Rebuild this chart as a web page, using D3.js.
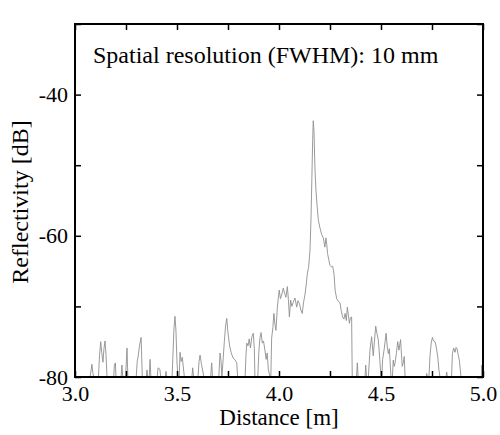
<!DOCTYPE html>
<html>
<head>
<meta charset="utf-8">
<script src="https://cdn.jsdelivr.net/npm/d3@7"></script>
<style>
  body { margin: 0; background: #fff; }
  text { font-family: "Liberation Serif", "DejaVu Serif", "Times New Roman", Times, serif; }
</style>
</head>
<body>
<div id="chart-area"></div>
<script>
// trace; -82 = below the noise floor (clipped at -80)
var distance = [
  3.000, 3.074, 3.083, 3.088, 3.092, 3.115, 3.120, 3.126, 3.131, 3.137, 3.142, 3.147, 3.152, 3.157,
  3.190, 3.193, 3.198, 3.201, 3.226, 3.230, 3.234, 3.248, 3.252, 3.255, 3.259,
  3.300, 3.305, 3.309, 3.316, 3.324, 3.330, 3.350, 3.353, 3.356, 3.364, 3.368, 3.372,
  3.403, 3.407, 3.416, 3.420, 3.443, 3.446, 3.450,
  3.476, 3.480, 3.485, 3.490, 3.495, 3.500, 3.505, 3.511, 3.515, 3.520, 3.526, 3.536,
  3.573, 3.577, 3.581, 3.603, 3.608, 3.613, 3.620, 3.632, 3.665, 3.670, 3.674,
  3.705, 3.711, 3.716, 3.720, 3.725, 3.732, 3.738, 3.744, 3.750, 3.758, 3.766, 3.775, 3.785, 3.793, 3.797,
  3.834, 3.838, 3.842, 3.848, 3.854, 3.860, 3.867, 3.874, 3.879, 3.882,
  3.896, 3.901, 3.906, 3.912, 3.918, 3.924, 3.931, 3.937, 3.942, 3.948, 3.956,
  3.960, 3.964, 3.970, 3.975, 3.980, 3.985, 3.992, 4.001, 4.007, 4.013, 4.021, 4.028, 4.034, 4.041,
  4.046, 4.051, 4.057, 4.063, 4.070, 4.078, 4.087, 4.093, 4.100, 4.107, 4.114, 4.120, 4.127, 4.134,
  4.139, 4.145, 4.152, 4.157, 4.161, 4.165, 4.168, 4.172, 4.176, 4.181, 4.186, 4.193, 4.201, 4.209,
  4.217, 4.225, 4.230, 4.234, 4.238, 4.244, 4.250, 4.257, 4.263, 4.270, 4.275, 4.283, 4.291, 4.299,
  4.305, 4.312, 4.318, 4.324, 4.330, 4.335, 4.340, 4.345, 4.350, 4.356, 4.359,
  4.380, 4.384, 4.388, 4.422, 4.425, 4.429, 4.438, 4.446, 4.454, 4.462, 4.474, 4.480, 4.487, 4.494, 4.500,
  4.504, 4.508, 4.516, 4.525, 4.530, 4.536, 4.541, 4.549, 4.556, 4.560, 4.565, 4.569, 4.576, 4.582,
  4.588, 4.596, 4.604, 4.609, 4.614, 4.618,
  4.722, 4.724, 4.727, 4.735, 4.740, 4.746, 4.752, 4.758, 4.765, 4.771, 4.778, 4.784, 4.789,
  4.819, 4.822, 4.825, 4.846, 4.850, 4.856, 4.863, 4.868, 4.873, 4.878, 4.884, 4.892,
  4.992, 4.994, 4.997, 5.000
];
var reflectivity = [
  -82, -82, -78.2, -79.5, -82, -82, -77.0, -75.0, -76.5, -77.9, -76.0, -74.9, -76.8, -82,
  -82, -78.3, -78.0, -82, -82, -78.3, -82, -82, -77.5, -75.9, -82,
  -82, -77.8, -77.2, -75.6, -74.4, -82, -82, -79.0, -82, -82, -77.5, -82,
  -82, -78.7, -78.9, -82, -82, -79.2, -82,
  -82, -77.0, -73.2, -71.4, -73.5, -78.0, -82, -82, -76.5, -77.8, -77.2, -82,
  -82, -78.7, -82, -82, -77.8, -76.9, -78.2, -82, -82, -78.0, -82,
  -82, -76.6, -77.8, -82, -78.0, -75.0, -72.8, -71.7, -73.8, -75.6, -76.6, -77.3, -77.6, -78.0, -82,
  -82, -77.0, -75.2, -75.6, -74.6, -75.9, -74.3, -73.8, -76.0, -82,
  -82, -76.5, -74.6, -73.7, -75.2, -74.9, -76.2, -77.5, -76.6, -79.0, -82,
  -82, -74.5, -73.0, -71.0, -72.5, -73.4, -70.1, -67.7, -68.9, -68.4, -67.4, -68.2, -68.7, -67.2,
  -69.0, -71.5, -69.1, -70.0, -69.4, -68.8, -70.1, -69.2, -69.6, -70.5, -71.0, -69.5, -68.4, -66.8,
  -65.3, -64.5, -62.0, -57.5, -52.0, -46.5, -43.7, -45.5, -50.3, -53.5, -55.5, -57.8, -58.9, -59.8,
  -60.3, -61.6, -60.3, -61.2, -62.5, -63.4, -64.2, -64.4, -64.3, -65.5, -67.7, -68.9, -69.3, -69.5,
  -70.6, -71.5, -71.8, -71.0, -72.0, -70.1, -71.2, -72.4, -71.6, -71.5, -82,
  -82, -78.0, -82, -82, -78.3, -82, -82, -76.2, -74.3, -77.0, -72.8, -73.8, -74.8, -77.5, -82,
  -82, -77.5, -76.0, -73.8, -75.5, -76.7, -76.0, -82, -82, -77.6, -78.5, -78.0, -76.5, -75.0,
  -76.2, -74.7, -78.5, -78.0, -77.1, -82,
  -82, -79.5, -82, -82, -77.1, -75.2, -74.4, -74.9, -75.0, -75.8, -77.1, -79.0, -82,
  -82, -79.3, -82, -82, -76.7, -75.9, -76.5, -75.8, -76.0, -76.8, -77.6, -82,
  -82, -78.3, -82, -82
];

var xMinorTicks = [3.0, 3.25, 3.5, 3.75, 4.0, 4.25, 4.5, 4.75, 5.0];
var xTickLabels = ["3.0", "3.5", "4.0", "4.5", "5.0"];
var yMinorTicks = [-80, -70, -60, -50, -40, -30];
var yTickLabels = [-40, -60, -80];

var data = distance.map((d, i) => ({ x: d, y: reflectivity[i] }));

var serif = '"Liberation Serif", "DejaVu Serif", "Times New Roman", Times, serif';

var width = 500;
var height = 435;
var margin = { top: 24, right: 17, bottom: 58, left: 75 };
var charWidth = width - margin.left - margin.right;
var charHeight = height - margin.top - margin.bottom;

var svg = d3.select("#chart-area")
  .append("svg")
  .attr("width", width)
  .attr("height", height);

var g = svg.append("g")
  .attr("transform", "translate(" + margin.left + ", " + margin.top + ")");

var x = d3.scaleLinear()
  .domain([3, 5])
  .range([0, charWidth]);

var y = d3.scaleLinear()
  .domain([-80, -30])
  .range([charHeight, 0])
  .clamp(true);

g.append("clipPath")
  .attr("id", "clip")
  .append("rect")
  .attr("width", charWidth)
  .attr("height", charHeight);

var line = d3.line()
  .x(d => x(d.x))
  .y(d => y(d.y));

g.append("path")
  .datum(data)
  .attr("clip-path", "url(#clip)")
  .attr("fill", "none")
  .attr("stroke", "#8f8f8f")
  .attr("stroke-width", 0.9)
  .attr("d", line);

function styleAxis(sel) {
  sel.select(".domain").remove();
  sel.selectAll(".tick line").attr("stroke", "#000").attr("stroke-width", 1.5);
  sel.selectAll("text")
    .attr("font-family", serif)
    .attr("font-size", "22px")
    .attr("fill", "#000");
}

// bottom axis: ticks every 0.25, labels every 0.5
g.append("g")
  .attr("transform", "translate(0, " + charHeight + ")")
  .call(d3.axisBottom(x).tickValues(xMinorTicks).tickSizeInner(-6).tickSizeOuter(0).tickPadding(8)
    .tickFormat(d => {
      var s = d3.format(".1f")(d);
      return xTickLabels.indexOf(s) >= 0 ? s : "";
    }))
  .call(styleAxis);

g.append("g")
  .call(d3.axisTop(x).tickValues(xMinorTicks).tickSizeInner(-6).tickSizeOuter(0).tickFormat(""))
  .call(styleAxis);

g.append("g")
  .call(d3.axisLeft(y).tickValues(yMinorTicks).tickSizeInner(-6).tickSizeOuter(0).tickPadding(7)
    .tickFormat(d => yTickLabels.indexOf(d) >= 0 ? d : ""))
  .call(styleAxis);

g.append("g")
  .attr("transform", "translate(" + charWidth + ", 0)")
  .call(d3.axisRight(y).tickValues(yMinorTicks).tickSizeInner(-6).tickSizeOuter(0).tickFormat(""))
  .call(styleAxis);

g.append("rect")
  .attr("width", charWidth)
  .attr("height", charHeight)
  .attr("fill", "none")
  .attr("stroke", "#000")
  .attr("stroke-width", 2);

g.append("text")
  .attr("x", 18)
  .attr("y", 39)
  .attr("font-family", serif)
  .attr("font-size", "24px")
  .style("fill", "#000")
  .text("Spatial resolution (FWHM): 10 mm");

svg.append("text")
  .attr("x", margin.left + charWidth / 2)
  .attr("y", 425)
  .attr("text-anchor", "middle")
  .attr("font-family", serif)
  .attr("font-size", "23px")
  .style("fill", "#000")
  .text("Distance [m]");

svg.append("text")
  .attr("x", -202)
  .attr("y", 28)
  .attr("text-anchor", "middle")
  .attr("transform", "rotate(-90)")
  .attr("font-family", serif)
  .attr("font-size", "24px")
  .style("fill", "#000")
  .text("Reflectivity [dB]");
</script>
</body>
</html>
